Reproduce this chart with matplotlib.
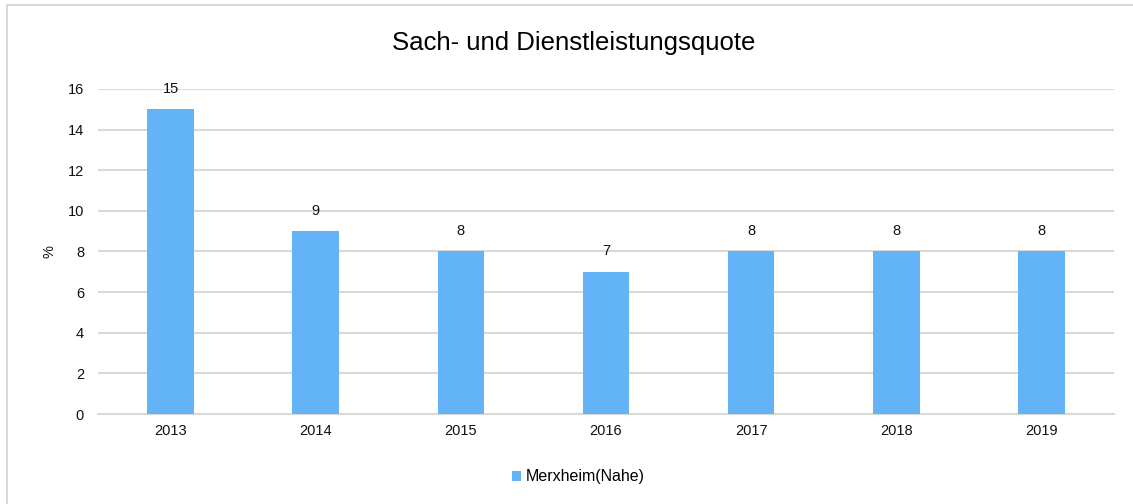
import matplotlib.pyplot as plt

plt.rcParams['font.family'] = ['Liberation Sans', 'DejaVu Sans']

years = ['2013', '2014', '2015', '2016', '2017', '2018', '2019']
quote = [15, 9, 8, 7, 8, 8, 8]
yticks = [0, 2, 4, 6, 8, 10, 12, 14, 16]

BAR_COLOR = '#63b4f6'
GRID_COLOR = '#d9d9d9'
TEXT_COLOR = '#111111'

fig = plt.figure(figsize=(11.33, 5.04), dpi=100)
ax = fig.add_axes([98 / 1133, 1 - 414 / 504, 1016 / 1133, 325 / 504])

x = list(range(len(years)))
bars = ax.bar(x, quote, width=0.32, color=BAR_COLOR, zorder=3, label='Merxheim(Nahe)')
for xi, v in zip(x, quote):
    ax.text(xi, v + 1.0, str(v), ha='center', va='center', fontsize=10.5, color=TEXT_COLOR, zorder=4)

ax.set_xlim(-0.5, len(years) - 0.5)
ax.set_ylim(0, 16)
ax.set_yticks(yticks)
ax.set_xticks(x)
ax.set_xticklabels(years)
ax.tick_params(axis='both', length=0, labelsize=10.5, colors=TEXT_COLOR)
ax.tick_params(axis='y', pad=10)
ax.tick_params(axis='x', pad=7)
ax.yaxis.grid(True, color=GRID_COLOR, linewidth=1.5, zorder=0)
for s in ['top', 'right', 'left']:
    ax.spines[s].set_visible(False)
ax.spines['bottom'].set_color(GRID_COLOR)
ax.spines['bottom'].set_linewidth(1.5)
ax.set_ylabel('%', fontsize=10.5, color=TEXT_COLOR)
ax.yaxis.set_label_coords(-41 / 1016, 0.5)

fig.text(574 / 1133, 1 - 43 / 504, 'Sach- und Dienstleistungsquote', ha='center', va='center',
         fontsize=18.5, color='#000000')

fig.legend(handles=[bars], loc='center', bbox_to_anchor=(578 / 1133, 1 - 477 / 504),
           frameon=False, fontsize=11.5, handlelength=0.6, handleheight=0.6, handletextpad=0.25)

# thin frame around the chart area
fig.add_artist(plt.Line2D([7 / 1133, 7 / 1133], [0, 1 - 5 / 504], color=GRID_COLOR, linewidth=1.5))
fig.add_artist(plt.Line2D([7 / 1133, 1], [1 - 5 / 504, 1 - 5 / 504], color=GRID_COLOR, linewidth=1.5))

fig.savefig('out.png', dpi=100)
